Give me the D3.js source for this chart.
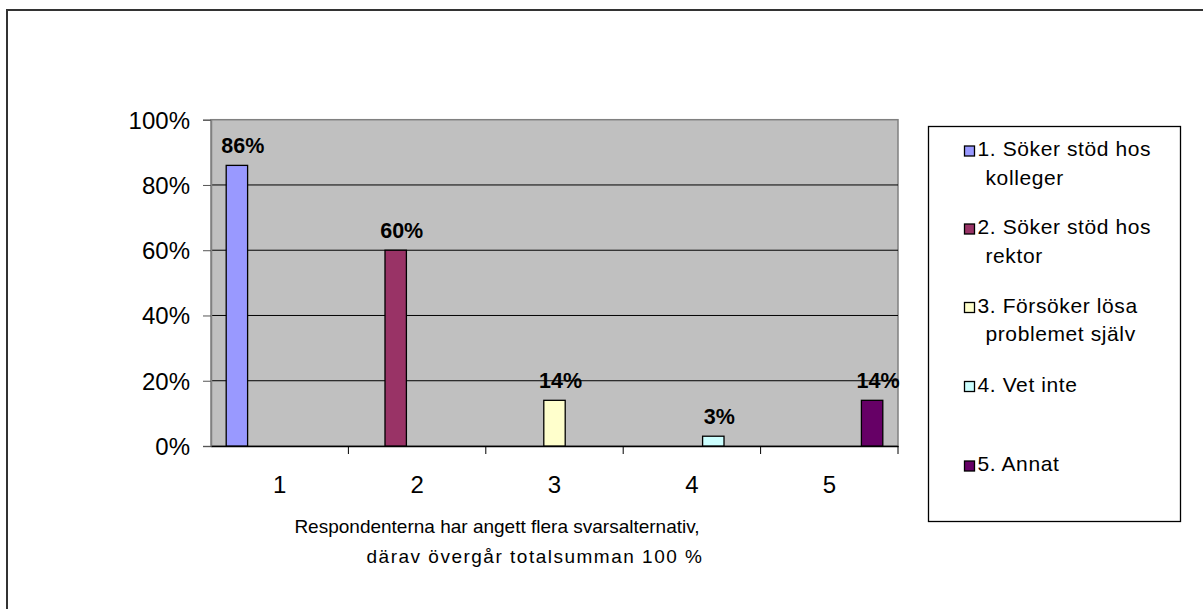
<!DOCTYPE html>
<html>
<head>
<meta charset="utf-8">
<script src="https://cdn.jsdelivr.net/npm/d3@7/dist/d3.min.js"></script>
<style>
  html, body { margin: 0; padding: 0; background: #fff; }
  svg { display: block; font-family: Arial, "Liberation Sans", sans-serif; }
</style>
</head>
<body>
<svg id="chart" width="1203" height="609"></svg>
<script>
// Categories along the x axis
const categories = ["1", "2", "3", "4", "5"];
// One series per answer option; each series sits in its own category
const seriesNames = [
  ["1. Söker stöd hos", "kolleger"],
  ["2. Söker stöd hos", "rektor"],
  ["3. Försöker lösa", "problemet själv"],
  ["4. Vet inte"],
  ["5. Annat"]
];
const seriesValues = [86, 60, 14, 3, 14];
const seriesColors = ["#9999FF", "#993366", "#FFFFCC", "#CCFFFF", "#660066"];
const yTicks = [0, 20, 40, 60, 80, 100];
const axisTitle = [
  "Respondenterna har angett flera svarsalternativ,",
  "därav övergår totalsumman 100 %"
];

const svg = d3.select("#chart");

// Chart frame
svg.append("rect")
  .attr("x", 7).attr("y", 10).attr("width", 1300).attr("height", 700)
  .attr("fill", "#fff").attr("stroke", "#333").attr("stroke-width", 2);

const plot = { left: 211, right: 898, top: 119.7, bottom: 446 };

const x = d3.scaleBand().domain(categories).range([plot.left, plot.right]).padding(0);
const xs = d3.scaleBand().domain(d3.range(seriesValues.length))
  .range([0, x.bandwidth()]).paddingInner(0).paddingOuter(0.71);
const y = d3.scaleLinear().domain([0, 100]).range([plot.bottom, plot.top]);

// Plot background
svg.append("rect")
  .attr("x", plot.left).attr("y", plot.top)
  .attr("width", plot.right - plot.left).attr("height", plot.bottom - plot.top)
  .attr("fill", "#C0C0C0").attr("stroke", "#808080").attr("stroke-width", 1.5);

// Gridlines
svg.append("g").selectAll("line")
  .data(yTicks.filter(d => d > 0 && d < 100))
  .join("line")
  .attr("x1", plot.left).attr("x2", plot.right)
  .attr("y1", d => y(d)).attr("y2", d => y(d))
  .attr("stroke", "#000").attr("stroke-width", 1);

// Y axis
const yAxis = d3.axisLeft(y).tickValues(yTicks).tickSize(8).tickPadding(13)
  .tickFormat(d => d + "%");
const gy = svg.append("g").attr("transform", `translate(${plot.left},0)`).call(yAxis);
gy.select(".domain").attr("stroke", "#808080").attr("stroke-width", 1.5);
gy.selectAll(".tick line").attr("stroke", "#555");
gy.selectAll(".tick text").attr("font-size", 24).attr("fill", "#000")
  .attr("font-family", "Arial, 'Liberation Sans', sans-serif")
  .attr("dy", "0.35em");

// X axis with ticks on category boundaries
const xAxis = d3.axisBottom(x).tickSize(0).tickPadding(30);
const gx = svg.append("g").attr("transform", `translate(0,${plot.bottom})`).call(xAxis);
gx.select(".domain").attr("stroke", "#000").attr("stroke-width", 1.5);
gx.selectAll(".tick text").attr("font-size", 24).attr("fill", "#000")
  .attr("font-family", "Arial, 'Liberation Sans', sans-serif");
gx.append("g").selectAll("line")
  .data(categories.slice(1).concat([null]))
  .join("line")
  .attr("x1", (d, i) => i < categories.length - 1 ? x(d) : plot.right)
  .attr("x2", (d, i) => i < categories.length - 1 ? x(d) : plot.right)
  .attr("y1", 0).attr("y2", 8)
  .attr("stroke", "#000");

// Bars
const bars = seriesValues.map((v, i) => ({ cat: categories[i], idx: i, value: v }));
svg.append("g").selectAll("rect")
  .data(bars)
  .join("rect")
  .attr("x", d => x(d.cat) + xs(d.idx))
  .attr("y", d => y(d.value))
  .attr("width", xs.bandwidth())
  .attr("height", d => y(0) - y(d.value))
  .attr("fill", d => seriesColors[d.idx])
  .attr("stroke", "#000").attr("stroke-width", 1.3);

// Value labels
svg.append("g").selectAll("text")
  .data(bars)
  .join("text")
  .attr("x", d => x(d.cat) + xs(d.idx) + xs.bandwidth() / 2 + 6)
  .attr("y", d => y(d.value) - 12)
  .attr("text-anchor", "middle")
  .attr("font-size", 21.5).attr("font-weight", "bold")
  .text(d => d.value + "%");

// Axis title, two lines
const titleCenters = [497, 535];
const titleBaselines = [533, 563];
svg.append("g").selectAll("text")
  .data(axisTitle)
  .join("text")
  .attr("x", (d, i) => titleCenters[i])
  .attr("y", (d, i) => titleBaselines[i])
  .attr("text-anchor", "middle")
  .attr("font-size", 19)
  .attr("letter-spacing", (d, i) => i === 0 ? 0 : 1.5)
  .text(d => d);

// Legend
const legend = svg.append("g");
legend.append("rect")
  .attr("x", 928.5).attr("y", 126.5).attr("width", 252).attr("height", 395)
  .attr("fill", "#fff").attr("stroke", "#000").attr("stroke-width", 1.3);
const legendBaselines = [156, 234, 312.5, 391.5, 471];
const items = legend.selectAll("g.item")
  .data(seriesNames)
  .join("g").attr("class", "item");
items.append("rect")
  .attr("x", 964.5).attr("y", (d, i) => legendBaselines[i] - 10)
  .attr("width", 10).attr("height", 10)
  .attr("fill", (d, i) => seriesColors[i])
  .attr("stroke", "#000").attr("stroke-width", 1.3);
items.each(function(lines, i) {
  d3.select(this).selectAll("text")
    .data(lines)
    .join("text")
    .attr("x", (d, j) => j === 0 ? 977.5 : 985.5)
    .attr("y", (d, j) => legendBaselines[i] + j * 28.5)
    .attr("font-size", 21).attr("letter-spacing", 0.6)
    .text(d => d);
});
</script>
</body>
</html>
